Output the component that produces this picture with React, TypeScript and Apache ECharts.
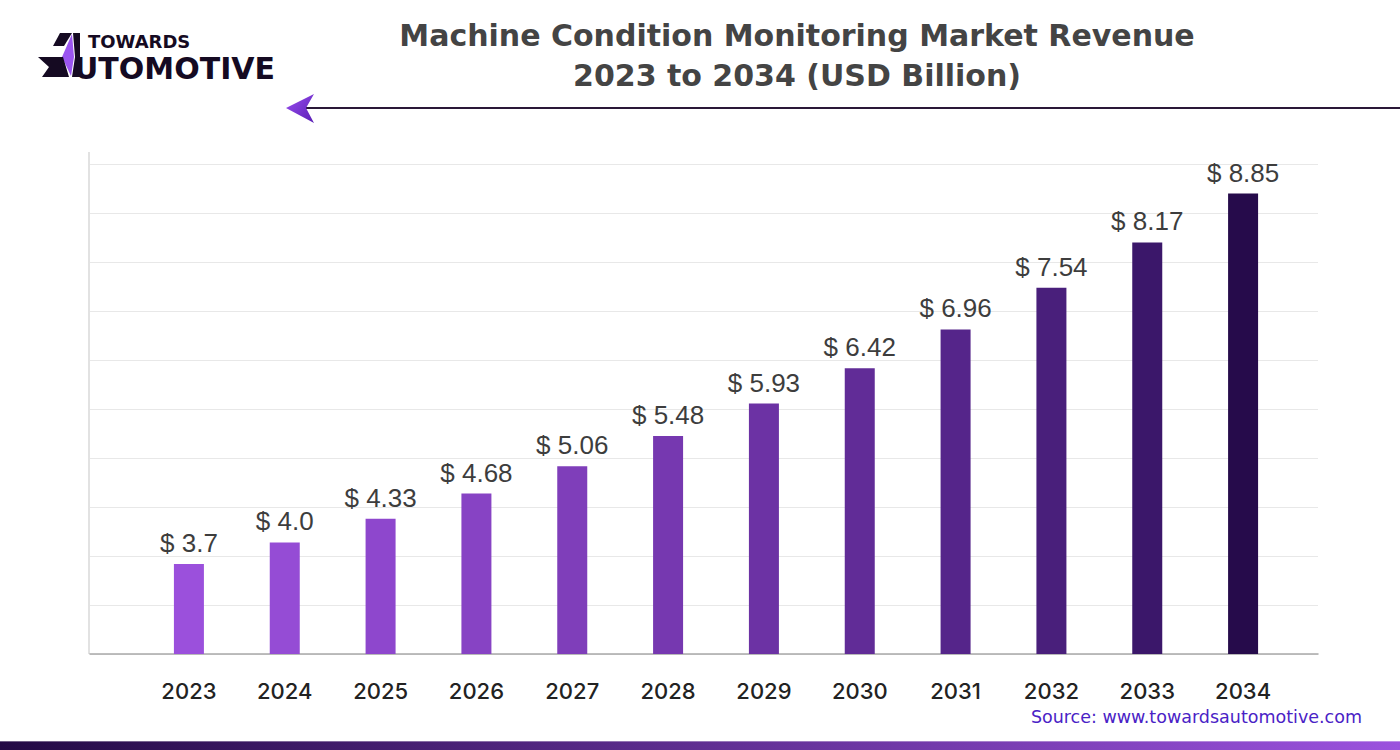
import React, { useEffect, useRef } from "react";
import * as echarts from "echarts";

const years = ["2023", "2024", "2025", "2026", "2027", "2028", "2029", "2030", "2031", "2032", "2033", "2034"];
const values = [3.7, 4.0, 4.33, 4.68, 5.06, 5.48, 5.93, 6.42, 6.96, 7.54, 8.17, 8.85];
const valueLabels = ["3.7", "4.0", "4.33", "4.68", "5.06", "5.48", "5.93", "6.42", "6.96", "7.54", "8.17", "8.85"];
const barColors = [
  "#9b50dc", "#954cd5", "#8e47cd", "#8743c4", "#7f3eba", "#7638b0",
  "#6c32a4", "#612c97", "#55258a", "#491f7b", "#3b176a", "#260b4b",
];
const titleLines = ["Machine Condition Monitoring Market Revenue", "2023 to 2034 (USD Billion)"];
const sourceText = "Source: www.towardsautomotive.com";

export default function App() {
  const ref = useRef<HTMLDivElement>(null);
  useEffect(() => {
    const chart = echarts.init(ref.current as HTMLDivElement, null, { renderer: "svg" });
    const font = "'Liberation Sans', Arial, sans-serif";
    const titleFont = "'DejaVu Sans', 'Liberation Sans', sans-serif";
    const yearFont = "Inter, 'Liberation Sans', sans-serif";
    chart.setOption({
      animation: false,
      backgroundColor: "#ffffff",
      grid: [
        { left: 90, width: 1228, top: 164, height: 490 },
        { left: 141, width: 1150, top: 164, height: 490 },
      ],
      xAxis: [
        {
          type: "value",
          gridIndex: 0,
          min: 0,
          max: 1,
          axisLine: { show: true, lineStyle: { color: "#a9a9a9", width: 1.5 } },
          axisTick: { show: false },
          axisLabel: { show: false },
          splitLine: { show: false },
        },
        {
          type: "category",
          gridIndex: 1,
          data: years,
          axisLine: { show: false },
          axisTick: { show: false },
          axisLabel: { color: "#222222", fontSize: 22, fontFamily: yearFont, fontWeight: 500, margin: 26 },
          splitLine: { show: false },
        },
      ],
      yAxis: [
        {
          type: "value",
          gridIndex: 0,
          min: 0,
          max: 10,
          interval: 1,
          axisLine: { show: false },
          axisTick: { show: false },
          axisLabel: { show: false },
          splitLine: { show: true, lineStyle: { color: "#e8e8e8", width: 1 } },
        },
        {
          type: "value",
          gridIndex: 1,
          min: 2.45,
          max: 9.26,
          show: false,
          splitLine: { show: false },
        },
      ],
      series: [
        {
          type: "bar",
          xAxisIndex: 1,
          yAxisIndex: 1,
          barWidth: 30,
          data: values.map((v, i) => ({ value: v, itemStyle: { color: barColors[i] } })),
          label: {
            show: true,
            position: "top",
            distance: 8,
            fontSize: 26,
            fontFamily: font,
            color: "#3d3d3d",
            formatter: (p: any) => "$ " + valueLabels[p.dataIndex],
          },
        },
      ],
      graphic: [
        // left axis line
        { type: "line", shape: { x1: 89, y1: 152, x2: 89, y2: 654 }, style: { stroke: "#e2e2e2", lineWidth: 2 } },
        // title
        {
          type: "text",
          x: 797,
          y: 35,
          style: { text: titleLines[0], fill: "#444444", font: "bold 30px " + titleFont, textAlign: "center", textVerticalAlign: "middle" },
        },
        {
          type: "text",
          x: 797,
          y: 75,
          style: { text: titleLines[1], fill: "#444444", font: "bold 30px " + titleFont, textAlign: "center", textVerticalAlign: "middle" },
        },
        // arrow line
        { type: "line", shape: { x1: 306, y1: 108, x2: 1400, y2: 108 }, style: { stroke: "#2a1838", lineWidth: 2 } },
        {
          type: "polygon",
          shape: { points: [[286, 108], [314, 94], [306, 108], [314, 123]] },
          style: {
            fill: new echarts.graphic.LinearGradient(0, 0, 1, 1, [
              { offset: 0, color: "#9a4ef0" },
              { offset: 1, color: "#5a1fb5" },
            ]),
          },
        },
        // logo
        { type: "polygon", shape: { points: [[60, 33], [72, 33], [64, 46], [53, 46]] }, style: { fill: "#150a22" } },
        { type: "polygon", shape: { points: [[73, 33], [80, 33], [80, 77], [72, 77], [75, 57]] }, style: { fill: "#150a22" } },
        { type: "polygon", shape: { points: [[72, 34], [62, 57], [71, 76], [74, 57]] }, style: { fill: "#9b55f0" } },
        { type: "polygon", shape: { points: [[38, 57], [63, 57], [69, 77], [42, 77], [49, 67]] }, style: { fill: "#150a22" } },
        {
          type: "text",
          x: 88,
          y: 41,
          style: { text: "TOWARDS", fill: "#150a22", font: "bold 18px 'DejaVu Sans', sans-serif", textVerticalAlign: "middle" },
        },
        {
          type: "text",
          x: 74,
          y: 68,
          style: { text: "UTOMOTIVE", fill: "#150a22", font: "bold 30px 'DejaVu Sans', sans-serif", textVerticalAlign: "middle" },
        },
        // source
        {
          type: "text",
          x: 1362,
          y: 717,
          style: { text: sourceText, fill: "#4a22c6", font: "17.5px 'DejaVu Sans', sans-serif", textAlign: "right", textVerticalAlign: "middle" },
        },
        // bottom band
        {
          type: "rect",
          shape: { x: 0, y: 741, width: 1400, height: 9 },
          style: {
            fill: new echarts.graphic.LinearGradient(0, 0, 1, 0, [
              { offset: 0, color: "#230a45" },
              { offset: 1, color: "#9b52de" },
            ]),
          },
        },
        { type: "rect", shape: { x: 0, y: 741, width: 1400, height: 1 }, style: { fill: "rgba(255,255,255,0.35)" } },
      ],
    });
    return () => chart.dispose();
  }, []);
  return <div ref={ref} style={{ position: "fixed", left: 0, top: 0, width: 1400, height: 750 }} />;
}
